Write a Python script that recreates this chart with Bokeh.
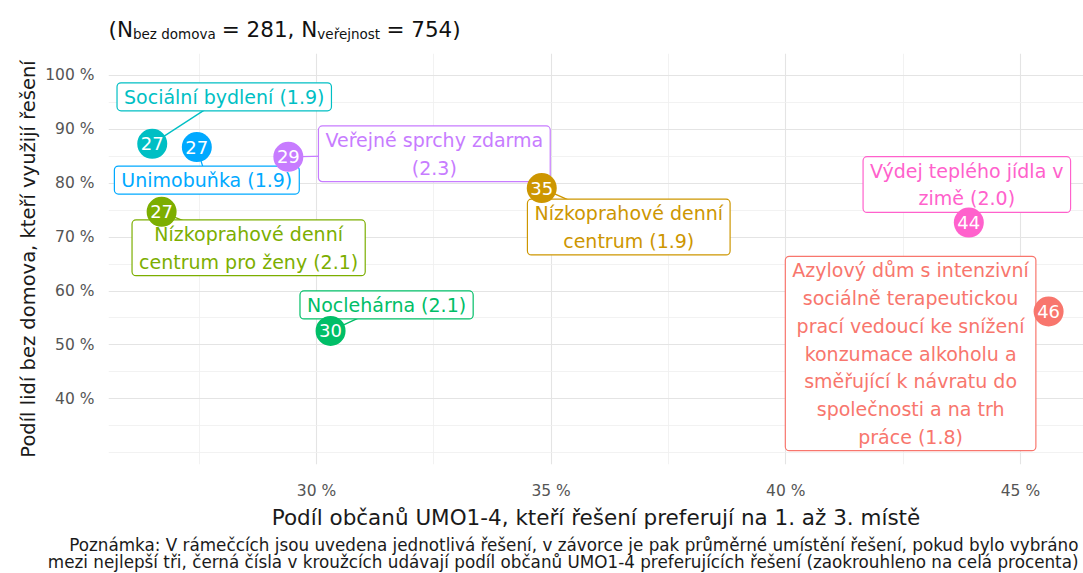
import textwrap
from bokeh.plotting import figure
from bokeh.layouts import column
from bokeh.models import Range1d, FixedTicker, CustomJSTickFormatter, Label, Title, ColumnDataSource
from bokeh.core.properties import value
from bokeh.embed import file_html
from bokeh.resources import INLINE

# ---------------- data ----------------
solutions = [
    "Azylový dům s intenzivní sociálně terapeutickou prací vedoucí ke snížení konzumace alkoholu a směřující k návratu do společnosti a na trh práce",
    "Nízkoprahové denní centrum",
    "Nízkoprahové denní centrum pro ženy",
    "Noclehárna",
    "Sociální bydlení",
    "Unimobuňka",
    "Veřejné sprchy zdarma",
    "Výdej teplého jídla v zimě",
]
avg_rank = [1.8, 1.9, 2.1, 2.1, 1.9, 1.9, 2.3, 2.0]
public_pct = [45.6, 34.8, 26.7, 30.3, 26.5, 27.45, 29.4, 43.9]      # x: občané UMO1-4
homeless_pct = [56.2, 79.1, 74.7, 52.6, 87.3, 86.7, 84.9, 72.7]     # y: lidé bez domova
circle_pct = [46, 35, 27, 30, 27, 27, 29, 44]
colors = ["#F8766D", "#CD9600", "#7CAE00", "#00BE67", "#00BFC4", "#00A9FF", "#C77CFF", "#FF61CC"]

x_ticks = [30, 35, 40, 45]
x_minor = [27.5, 32.5, 37.5, 42.5]
y_ticks = [40, 50, 60, 70, 80, 90, 100]
y_minor = [30, 35, 45, 55, 65, 75, 85, 95]

# (text, is_subscript, gap before in px)
title_parts = [("(N", False, 0), ("bez domova", True, 0), ("= 281, N", False, 6),
               ("veřejnost", True, 0), ("= 754)", False, 6)]
x_title = "Podíl občanů UMO1-4, kteří řešení preferují na 1. až 3. místě"
y_title = "Podíl lidí bez domova, kteří využijí řešení"
note_lines = [
    "Poznámka: V rámečcích jsou uvedena jednotlivá řešení, v závorce je pak průměrné umístění řešení, pokud bylo vybráno",
    "mezi nejlepší tři, černá čísla v kroužcích udávají podíl občanů UMO1-4 preferujících řešení (zaokrouhleno na celá procenta)",
]

# ---------------- layout ----------------
FONT = "DejaVu Sans"
W = 1083
TOP_H, MAIN_H = 53, 520
BL, BR = 108, 0
FH = 413
FW = W - BL - BR
x0, x1 = 25.568, 25.568 + FW / 46.93
y0, y1 = 27.82, 27.82 + FH / 5.417
pxx = FW / (x1 - x0)
pxy = FH / (y1 - y0)

# repel-like label offsets in screen pixels (dx right, dy down)
label_dx = [-138, 87, 87, 56, 72, 10, 146, -2]
label_dy = [42, 39, 36, -26, -47, 33, -3, -38]

labels = [textwrap.fill(f"{s} ({r:.1f})", 25) for s, r in zip(solutions, avg_rank)]

src = ColumnDataSource(dict(
    x=public_pct, y=homeless_pct, num=[str(v) for v in circle_pct], color=colors,
    label=labels, dx=label_dx, dy=label_dy,
    lx=[x + dx / pxx for x, dx in zip(public_pct, label_dx)],
    ly=[y - dy / pxy for y, dy in zip(homeless_pct, label_dy)],
))

# ---- title strip with subscripts ----
top = figure(width=W, height=TOP_H, output_backend="svg", toolbar_location=None,
             x_axis_location=None, y_axis_location=None, min_border=0,
             x_range=Range1d(0, 1), y_range=Range1d(0, 1))
top.outline_line_color = None
top.grid.visible = False
ems = {"(": .39, ")": .39, "N": .748, "=": .838, " ": .318, ",": .318, "b": .635, "e": .615,
       "z": .525, "d": .635, "o": .612, "m": .974, "v": .592, "a": .613, "ř": .411, "j": .278,
       "n": .634, "s": .521, "t": .392}
tx = 0
for txt, sub, gap in title_parts:
    tx += gap
    size = 13.5 if sub else 21.5
    top.add_layout(Label(x=tx, y=20 if sub else 24, x_units="screen", y_units="screen",
                         text=txt, text_font=FONT, text_font_size=f"{size}px", text_color="#111111",
                         text_align="left", text_baseline="alphabetic"))
    tx += sum(ems.get(c, .636) for c in txt) * size

# ---- main plot ----
p = figure(width=W, height=MAIN_H, x_range=Range1d(x0, x1), y_range=Range1d(y0, y1),
           output_backend="svg", toolbar_location=None,
           min_border_left=BL, min_border_right=BR, min_border_top=0,
           min_border_bottom=MAIN_H - FH)
p.outline_line_color = None
p.background_fill_color = "white"
p.border_fill_color = "white"

for ax, ticks, minor in ((p.xaxis, x_ticks, x_minor), (p.yaxis, y_ticks, y_minor)):
    ax.ticker = FixedTicker(ticks=ticks, minor_ticks=minor)
    ax.formatter = CustomJSTickFormatter(code="return tick + ' %'")
    ax.axis_line_color = None
    ax.major_tick_line_color = None
    ax.minor_tick_line_color = None
    ax.major_label_text_font = FONT
    ax.major_label_text_font_size = "15.5px"
    ax.major_label_text_color = "#555555"
    ax.axis_label_text_font = FONT
    ax.axis_label_text_font_style = "normal"
    ax.axis_label_text_color = "#1a1a1a"

p.xaxis.axis_label = x_title
p.xaxis.axis_label_text_font_size = "21.5px"
p.xaxis.major_label_standoff = 11
p.xaxis.axis_label_standoff = 2
p.yaxis.axis_label = y_title
p.yaxis.axis_label_text_font_size = "19.5px"
p.yaxis.major_label_standoff = 8
p.yaxis.axis_label_standoff = 2

for g in (p.xgrid, p.ygrid):
    g.grid_line_color = "#e4e4e4"
    g.grid_line_width = 1.1
    g.minor_grid_line_color = "#efefef"
    g.minor_grid_line_width = 0.8

p.segment(x0="x", y0="y", x1="lx", y1="ly", line_color="color", line_width=1.3, source=src)
p.text(x="x", y="y", text="label", x_offset="dx", y_offset="dy", source=src,
       text_align="center", text_baseline="middle", text_font=value(FONT),
       text_font_size="19px", text_line_height=1.26, text_color="color",
       background_fill_color="white", border_line_color="color", border_line_width=1.2,
       border_radius=4, padding=dict(left=7, right=7, top=3, bottom=3))
p.scatter(x="x", y="y", size=30, fill_color="color", line_color=None, source=src)
p.text(x="x", y="y", text="num", source=src, text_align="center", text_baseline="middle",
       text_font=value(FONT), text_font_size="18px", text_color="white")

# footnote: one two-line title below the x axis, first line indented so both end flush right
NBSP = "\u00a0"
note_text = NBSP * 4 + note_lines[0] + "\n" + note_lines[1]
p.add_layout(Title(text=note_text, align="right", text_font=FONT,
                   text_font_size="16.8px", text_font_style="normal", text_color="#1a1a1a",
                   text_line_height=0.87, standoff=2, offset=5), "below")

layout = column(top, p, spacing=0)
open("out.html", "w").write(file_html(layout, INLINE))
